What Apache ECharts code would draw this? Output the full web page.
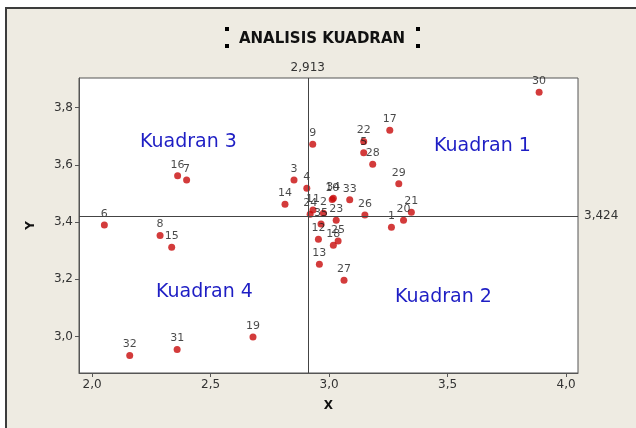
<!DOCTYPE html>
<html><head><meta charset="utf-8">
<script src="https://cdn.jsdelivr.net/npm/echarts@6/dist/echarts.min.js"></script>
<style>html,body{margin:0;padding:0;background:#fff}#c{width:636px;height:428px}</style>
</head><body><div id="c"></div>
<script>
const pointIds = [1,2,3,4,5,6,7,8,9,10,11,12,13,14,15,16,17,18,19,20,21,22,23,24,25,26,27,28,29,30,31,32,33,34,35];
const xValues = [3.263,2.976,2.852,2.906,3.146,2.052,2.399,2.287,2.931,3.013,2.932,2.955,2.959,2.814,2.336,2.361,3.256,3.018,2.679,3.314,3.347,3.146,3.030,2.920,3.038,3.151,3.063,3.184,3.294,3.886,2.359,2.159,3.087,3.018,2.966];
const yValues = [3.382,3.431,3.547,3.518,3.642,3.390,3.547,3.353,3.672,3.479,3.442,3.340,3.253,3.462,3.312,3.562,3.721,3.319,2.999,3.406,3.434,3.681,3.406,3.427,3.334,3.425,3.197,3.602,3.534,3.853,2.955,2.934,3.478,3.483,3.393];
const xTicks = [2.0,2.5,3.0,3.5,4.0];
const yTicks = [3.0,3.2,3.4,3.6,3.8];
const xMean = 2.913;
const yMean = 3.424;
const quadrantNames = ['Kuadran 1','Kuadran 2','Kuadran 3','Kuadran 4'];

const fmt = v => Number(v).toFixed(1).replace('.', ',');
const fmt3 = v => Number(v).toFixed(3).replace('.', ',');
const FONT = 'DejaVu Sans';
const chart = echarts.init(document.getElementById('c'), null, {renderer:'canvas'});
const data = pointIds.map((id,i)=>[xValues[i], yValues[i], id]);
const qText = (t, x, y) => ({type:'text', left:x, top:y, z:10, style:{text:t, fill:'#1e1ec4', font:'19px "DejaVu Sans"'}});
const handle = (x,y) => ({type:'rect', shape:{x:x,y:y,width:4,height:4}, style:{fill:'#000'}, z:10});
chart.setOption({
  animation:false,
  backgroundColor:'#ffffff',
  graphic:[
    {type:'rect', shape:{x:6,y:8,width:700,height:500}, style:{fill:'#eeebe2', stroke:'#3c3c3c', lineWidth:2}, z:-10},
    {type:'text', x:322, y:39, style:{text:'ANALISIS KUADRAN', fill:'#111', font:'bold 15px "DejaVu Sans"', align:'center', verticalAlign:'middle'}, z:10},
    handle(225,27), handle(225,44), handle(416,27), handle(416,44),
    qText(quadrantNames[2], 140, 133),
    qText(quadrantNames[0], 434, 137),
    qText(quadrantNames[3], 156, 283),
    qText(quadrantNames[1], 395, 288)
  ],
  grid:{left:79, right:58, top:78, bottom:55, show:true, backgroundColor:'#ffffff', borderColor:'#555', borderWidth:1},
  xAxis:{
    type:'value', min:1.945, max:4.05,
    name:'X', nameLocation:'middle', nameGap:27,
    nameTextStyle:{fontFamily:FONT, fontWeight:'bold', fontSize:12, color:'#111'},
    splitLine:{show:false},
    axisLine:{show:true, lineStyle:{color:'#555'}},
    axisTick:{show:true, length:4, inside:false, customValues:xTicks, lineStyle:{color:'#555'}},
    axisLabel:{customValues:xTicks, formatter:fmt, fontFamily:FONT, fontSize:12, color:'#333', margin:6}
  },
  yAxis:{
    type:'value', min:2.873, max:3.903,
    name:'Y', nameLocation:'middle', nameGap:42, nameRotate:90,
    nameTextStyle:{fontFamily:FONT, fontWeight:'bold', fontSize:12, color:'#111'},
    splitLine:{show:false},
    axisLine:{show:true, lineStyle:{color:'#555'}},
    axisTick:{show:true, length:4, inside:false, customValues:yTicks, lineStyle:{color:'#555'}},
    axisLabel:{customValues:yTicks, formatter:fmt, fontFamily:FONT, fontSize:12, color:'#333', margin:6}
  },
  series:[{
    type:'scatter',
    data:data,
    symbol:'circle', symbolSize:7,
    itemStyle:{color:'#c80a0a'},
    label:{show:true, position:'top', distance:2, formatter:p=>String(p.data[2]), fontFamily:FONT, fontSize:11, color:'#1a1a1a'},
    markLine:{
      silent:true, symbol:'none', animation:false,
      lineStyle:{color:'#444', width:1, type:'solid'},
      data:[
        {xAxis:xMean, label:{show:true, position:'end', formatter:fmt3(xMean), fontFamily:FONT, fontSize:12, color:'#333', distance:4}},
        {yAxis:yMean, label:{show:true, position:'end', formatter:fmt3(yMean), fontFamily:FONT, fontSize:12, color:'#333', distance:6}}
      ]
    }
  }]
});
</script></body></html>
